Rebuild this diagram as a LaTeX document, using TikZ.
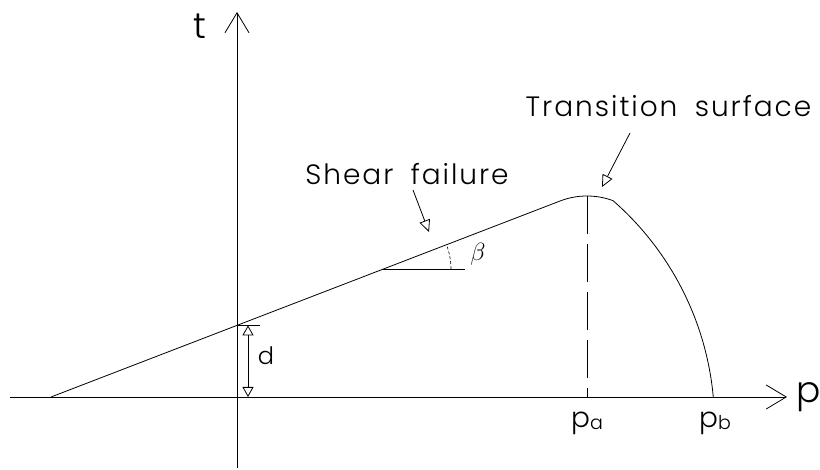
\documentclass[tikz,border=0pt]{standalone}
\usepackage{fontspec}
\IfFontExistsTF{Poppins Light}{\def\myfontname{Poppins Light}}{\def\myfontname{Poppins}}
\setmainfont{\myfontname}
\newfontfamily\spacedfont{\myfontname}[LetterSpace=7,WordSpace=1.8]
\usetikzlibrary{arrows.meta}
\begin{document}
\begin{tikzpicture}[x=1pt,y=1pt, line width=0.8pt,
  lbl/.style={inner sep=0pt, anchor=base},
  ax/.style={-{Straight Barb[length=20pt,width=24pt,line width=0.8pt]}},
  txt/.style={font=\spacedfont\fontsize{28}{30}\selectfont},
  big/.style={font=\fontsize{36}{38}\selectfont},
]
\useasboundingbox (0,0) rectangle (820,470);
% axes
\coordinate (ybot) at (237,2);
\coordinate (ytop) at (237,458);
\coordinate (xl) at (10,73);
\coordinate (xr) at (787,73);
\draw[ax] (ybot) -- (ytop);
\draw[ax] (xl) -- (xr);
\node[lbl,big] (tlab) at (200,431) {t};
\node[lbl,big] (plab) at (809,67) {p};
% failure envelope
\coordinate (A) at (51,73);
\coordinate (T) at (560.05,268.99);
\draw (A) -- (T) arc[start angle=111.06,end angle=69.7,radius=75] coordinate (K)
      arc[start angle=48.88,end angle=5.22,radius=296.5] coordinate (pb);
% dashed vertical at pa
\coordinate (peak) at (587,274);
\coordinate (pa) at (587,73);
\draw[dash pattern=on 38pt off 10pt] (peak) -- (pa);
\node[lbl,font=\fontsize{28}{30}\selectfont] (palab) at (587,42) {p\raisebox{-2pt}{\fontsize{19}{19}\selectfont a}};
\node[lbl,font=\fontsize{28}{30}\selectfont] (pblab) at (715,42) {p\raisebox{-2pt}{\fontsize{19}{19}\selectfont b}};
% beta angle
\coordinate (B0) at (383,200.8);
\coordinate (B1) at (465,200.8);
\coordinate (B2) at (451,200.8);
\draw (B0) -- (B1);
\draw[dash pattern=on 3pt off 2pt, line width=0.6pt] (B2) arc[start angle=0,end angle=21.06,radius=68];
\node[inner sep=0pt] (beta) at (478,216) {\fontsize{31}{31}\selectfont$\beta$};
% d dimension
\coordinate (dT) at (248,144.6);
\coordinate (dB) at (248,73);
\coordinate (tick0) at (237,144.6);
\coordinate (tick1) at (260,144.6);
\draw (tick0) -- (tick1);
\draw[{Triangle[open,length=10pt,width=11pt,line width=0.8pt]}-{Triangle[open,length=10pt,width=11pt,line width=0.8pt]}] (dB) -- (dT);
\node[lbl,font=\fontsize{24}{26}\selectfont] (dlab) at (266,105) {d};
% labels with leaders
\node[lbl,txt] (shear) at (407,285) {Shear failure};
\coordinate (s0) at (413,280);
\coordinate (s1) at (429,238);
\draw[-{Triangle[open,length=12pt,width=11pt,line width=0.8pt]}] (s0) -- (s1);
\node[lbl,txt] (trans) at (668.5,353) {Transition surface};
\coordinate (t0) at (630,337);
\coordinate (t1) at (602,283);
\draw[-{Triangle[open,length=12pt,width=11pt,line width=0.8pt]}] (t0) -- (t1);
\end{tikzpicture}
\end{document}
